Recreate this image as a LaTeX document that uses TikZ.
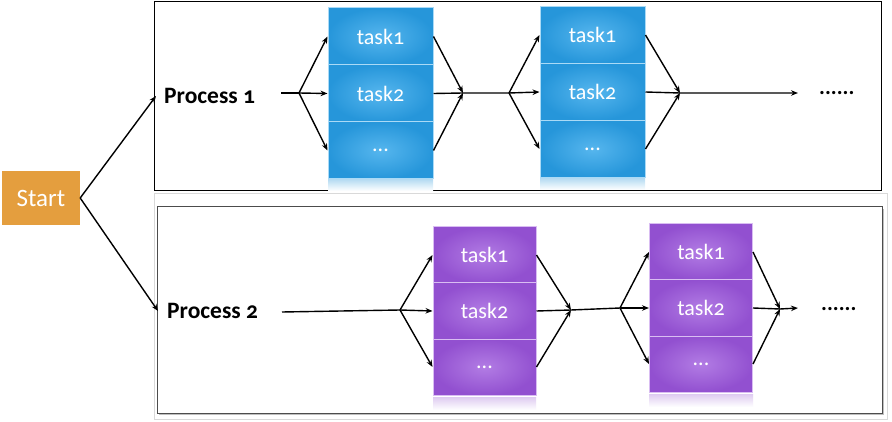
\documentclass[tikz,border=0pt]{standalone}
\usepackage{fontspec}
\setmainfont{Carlito}[Numbers=OldStyle]
\usetikzlibrary{arrows.meta,shadows}
\definecolor{blueA}{RGB}{38,150,218}
\definecolor{blueB}{RGB}{86,182,238}
\definecolor{purA}{RGB}{146,80,208}
\definecolor{purB}{RGB}{178,124,228}
\definecolor{startC}{RGB}{228,158,62}
\begin{document}
\begin{tikzpicture}[x=1pt,y=-1pt,
  conn/.style={line width=1.4pt, black},
  arr/.style={conn,-{Stealth[length=7pt,width=5.5pt]}},
  cellbase/.style={rectangle, inner sep=0pt, line width=1pt, text=white, font=\fontsize{22}{24}\selectfont},
  bcell/.style={cellbase, minimum width=105pt, minimum height=57pt, draw=blueB!50!white, inner color=blueB, outer color=blueA},
  pcell/.style={cellbase, minimum width=103pt, minimum height=56pt, draw=purB!50!white, inner color=purB, outer color=purA},
  proc/.style={font=\fontsize{23.5}{25}\selectfont\bfseries, text=black, inner sep=0pt},
  dotsl/.style={font=\fontsize{22}{24}\selectfont\bfseries, inner sep=0pt},
]
\useasboundingbox (0,0) rectangle (892,422);
% frames
\draw[black, line width=0.8pt] (154,1) rectangle (881,190);
\draw[gray!30, line width=0.8pt] (154,193) rectangle (887,419);
\draw[gray!60!black, line width=1pt, fill=white, drop shadow={shadow xshift=2pt, shadow yshift=-2pt, opacity=0.5}] (157,207) rectangle (882,413);

% start
\node[rectangle, fill=startC, minimum width=78pt, minimum height=54pt, inner sep=0pt, text=white, font=\fontsize{25}{27}\selectfont] (start) at (41,198) {Start};
\node[proc, anchor=west] (p1) at (164,96) {Process 1};
\node[proc, anchor=west] (p2) at (167,311) {Process 2};
\draw[arr] (start.east) -- ([xshift=-8pt]p1.west);
\draw[arr] (start.east) -- ([xshift=-9pt]p2.west);

% reflections
\fill[top color=blueA!35, bottom color=white] (328,179) rectangle (433,191);
\fill[top color=blueA!35, bottom color=white] (540,178) rectangle (645,190);
\fill[top color=purA!30, bottom color=white] (433,397) rectangle (536,410);
\fill[top color=purA!30, bottom color=white] (649,394) rectangle (753,407);

% top group 1
\node[bcell] (a11) at (380.5,36.5) {task1};
\node[bcell] (a12) at (380.5,93.5) {task2};
\node[bcell] (a13) at (380.5,150.5) {...};
% top group 2
\node[bcell] (a21) at (592.5,35) {task1};
\node[bcell] (a22) at (592.5,92) {task2};
\node[bcell] (a23) at (592.5,149) {...};
% bottom group 1
\node[pcell] (b11) at (484.5,255) {task1};
\node[pcell] (b12) at (484.5,311) {task2};
\node[pcell] (b13) at (484.5,367) {...};
% bottom group 2
\node[pcell] (b21) at (701,252) {task1};
\node[pcell] (b22) at (701,308) {task2};
\node[pcell] (b23) at (701,364) {...};

% top row connectors
\coordinate (l1) at (281,93);
\coordinate (s1) at (299,93);
\coordinate (m1) at (463,93);
\coordinate (s2) at (509,93);
\coordinate (m2) at (680,93);
\coordinate (e1) at (798,93);
\draw[conn] (l1) -- (s1);
\draw[arr] (s1) -- (a11.west);
\draw[arr] (s1) -- (a12.west);
\draw[arr] (s1) -- (a13.west);
\draw[arr] (a11.east) -- (m1);
\draw[arr] (a13.east) -- (m1);
\draw[conn] (a12.east) -- (m1) -- (s2);
\draw[arr] (s2) -- (a21.west);
\draw[arr] (s2) -- (a22.west);
\draw[arr] (s2) -- (a23.west);
\draw[arr] (a21.east) -- (m2);
\draw[arr] (a23.east) -- (m2);
\draw[arr] (a22.east) -- (m2) -- (e1);
\node[dotsl, anchor=base west] (d1) at (819,95) {......};

% bottom row connectors
\coordinate (l2) at (282,312);
\coordinate (t1) at (400,310);
\coordinate (n1) at (571,310);
\coordinate (t2) at (620,308);
\coordinate (n2) at (780,309);
\coordinate (e2) at (798,308);
\draw[conn] (l2) -- (t1);
\draw[arr] (t1) -- (b11.west);
\draw[arr] (t1) -- (b12.west);
\draw[arr] (t1) -- (b13.west);
\draw[arr] (b11.east) -- (n1);
\draw[arr] (b13.east) -- (n1);
\draw[conn] (b12.east) -- (n1) -- (t2);
\draw[arr] (t2) -- (b21.west);
\draw[arr] (t2) -- (b22.west);
\draw[arr] (t2) -- (b23.west);
\draw[arr] (b21.east) -- (n2);
\draw[arr] (b23.east) -- (n2);
\draw[arr] (b22.east) -- (n2) -- (e2);
\node[dotsl, anchor=base west] (d2) at (821,310) {......};
\end{tikzpicture}
\end{document}
